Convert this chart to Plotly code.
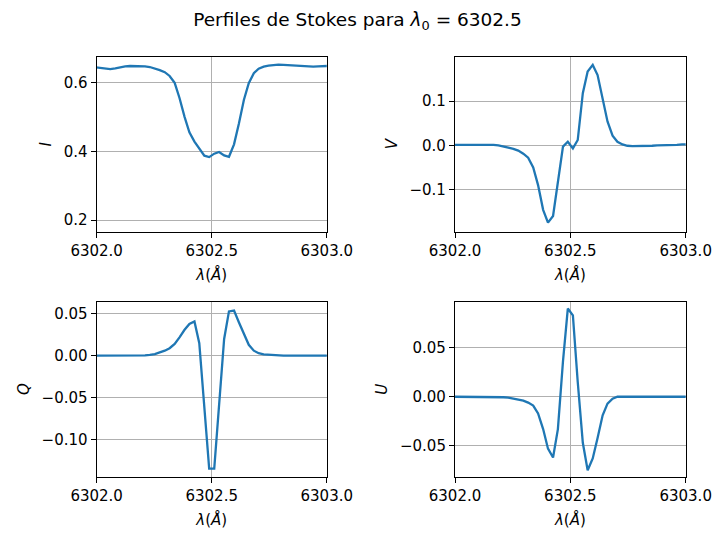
import plotly.graph_objects as go

# Wavelength grid (Angstrom)
wavelength = [
    6301.995, 6302.016, 6302.038, 6302.059, 6302.081, 6302.102, 6302.124, 6302.145,
    6302.167, 6302.188, 6302.210, 6302.231, 6302.253, 6302.274, 6302.296, 6302.317,
    6302.339, 6302.360, 6302.382, 6302.403, 6302.425, 6302.446, 6302.468, 6302.489,
    6302.511, 6302.532, 6302.554, 6302.575, 6302.597, 6302.618, 6302.640, 6302.661,
    6302.683, 6302.704, 6302.726, 6302.747, 6302.769, 6302.790, 6302.812, 6302.833,
    6302.855, 6302.876, 6302.898, 6302.919, 6302.941, 6302.962, 6302.984, 6303.005,
]

stokes_I = [
    0.644, 0.643, 0.640, 0.639, 0.641, 0.645, 0.647, 0.648,
    0.648, 0.648, 0.647, 0.645, 0.641, 0.636, 0.630, 0.619,
    0.599, 0.555, 0.500, 0.455, 0.428, 0.408, 0.387, 0.383,
    0.393, 0.398, 0.388, 0.384, 0.420, 0.480, 0.550, 0.598,
    0.627, 0.640, 0.646, 0.649, 0.651, 0.652, 0.651, 0.650,
    0.649, 0.647, 0.646, 0.645, 0.646, 0.647, 0.648, 0.648,
]

stokes_V = [
    0.001, 0.001, 0.002, 0.002, 0.002, 0.002, 0.002, 0.001,
    0.001, 0.000, -0.002, -0.005, -0.008, -0.012, -0.019, -0.028,
    -0.050, -0.090, -0.146, -0.175, -0.160, -0.086, -0.003, 0.008,
    -0.007, 0.012, 0.118, 0.167, 0.182, 0.159, 0.103, 0.054,
    0.022, 0.008, 0.002, -0.001, -0.002, -0.002, -0.002, -0.001,
    -0.001, 0.000, 0.000, 0.001, 0.001, 0.001, 0.002, 0.002,
]

stokes_Q = [
    0.000, 0.000, 0.000, 0.000, 0.000, 0.000, 0.000, 0.000,
    0.000, 0.0003, 0.0005, 0.001, 0.002, 0.004, 0.006, 0.009,
    0.014, 0.022, 0.031, 0.038, 0.041, 0.015, -0.062, -0.135,
    -0.135, -0.060, 0.020, 0.053, 0.054, 0.040, 0.025, 0.013,
    0.006, 0.003, 0.0015, 0.001, 0.0005, 0.000, 0.000, 0.000,
    0.000, 0.000, 0.000, 0.000, 0.000, 0.000, 0.000, 0.000,
]

stokes_U = [
    0.000, 0.000, 0.000, 0.000, 0.000, 0.000, 0.000, 0.000,
    0.000, 0.000, -0.0005, -0.001, -0.002, -0.003, -0.004, -0.006,
    -0.009, -0.017, -0.033, -0.053, -0.062, -0.033, 0.036, 0.090,
    0.083, 0.015, -0.047, -0.075, -0.063, -0.042, -0.019, -0.007,
    -0.002, 0.000, 0.000, 0.000, 0.000, 0.000, 0.000, 0.000,
    0.000, 0.000, 0.000, 0.000, 0.000, 0.000, 0.000, 0.000,
]

panels = [
    ("I", stokes_I, [0.1352, 0.4570], [0.5653, 0.8936], [0.166, 0.675], [0.2, 0.4, 0.6], ".1f"),
    ("V", stokes_V, [0.6364, 0.9590], [0.5653, 0.8936], [-0.1955, 0.2005], [-0.1, 0.0, 0.1], ".1f"),
    ("Q", stokes_Q, [0.1352, 0.4570], [0.1056, 0.4340], [-0.1447, 0.0646], [-0.10, -0.05, 0.0, 0.05], ".2f"),
    ("U", stokes_U, [0.6364, 0.9590], [0.1056, 0.4340], [-0.0816, 0.097], [-0.05, 0.0, 0.05], ".2f"),
]

x_ticks = [6302.0, 6302.5, 6303.0]
line_color = "#1f77b4"
font_family = "DejaVu Sans"
fs = 15

fig = go.Figure()
layout = dict(
    width=715, height=533,
    margin=dict(l=0, r=0, t=0, b=0, autoexpand=False),
    paper_bgcolor="white", plot_bgcolor="white",
    showlegend=False,
    font=dict(family=font_family, size=fs, color="black"),
    title=dict(
        text="Perfiles de Stokes para <i>λ</i><sub>0</sub> = 6302.5",
        x=0.5, xanchor="center", y=0.963, yanchor="middle",
        font=dict(family=font_family, size=18.5, color="black"),
    ),
)

for i, (name, vals, xd, yd, yr, yt, yfmt) in enumerate(panels):
    n = "" if i == 0 else str(i + 1)
    fig.add_trace(go.Scatter(
        x=wavelength, y=vals, mode="lines",
        line=dict(color=line_color, width=2.3),
        xaxis="x" + n, yaxis="y" + n, cliponaxis=True,
    ))
    common = dict(
        showline=True, linecolor="black", linewidth=1.2, mirror=True,
        ticks="outside", ticklen=5, tickwidth=1.2, tickcolor="black",
        showgrid=True, gridcolor="#b0b0b0", gridwidth=1,
        zeroline=False, automargin=False,
        tickfont=dict(family=font_family, size=fs, color="black"),
    )
    layout["xaxis" + n] = dict(
        common, domain=xd, range=[6302.0, 6303.0], anchor="y" + n,
        tickvals=x_ticks, tickformat=".1f",
        title=dict(text="<i>λ</i>(<i>Å</i>)", standoff=10,
                   font=dict(family=font_family, size=fs, color="black")),
    )
    layout["yaxis" + n] = dict(
        common, domain=yd, range=yr, anchor="x" + n,
        tickvals=yt, tickformat=yfmt,
        title=dict(text="<i>" + name + "</i>", standoff=8,
                   font=dict(family=font_family, size=fs, color="black")),
    )

fig.update_layout(**layout)
fig.write_html("out.html")
